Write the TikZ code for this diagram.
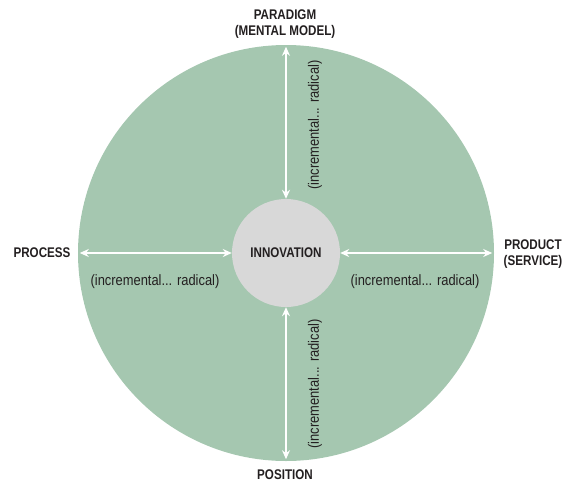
\documentclass[tikz,border=0pt]{standalone}
\usepackage{fontspec}
\setmainfont{Liberation Sans}
\newfontfamily\headfont[FakeStretch=0.83]{Liberation Sans}
\newfontfamily\rangefont[FakeStretch=0.86]{Liberation Sans}
\usetikzlibrary{arrows.meta}
\definecolor{wheelgreen}{RGB}{165,199,176}
\definecolor{hubgrey}{RGB}{216,216,216}
\definecolor{inkdark}{RGB}{35,31,32}

\begin{document}
\begin{tikzpicture}[x=1pt, y=-1pt,
  headlabel/.style={font=\headfont\bfseries\fontsize{14}{15.5}\selectfont, text=inkdark, align=center, inner sep=0pt},
  spanlabel/.style={font=\rangefont\fontsize{15}{17}\selectfont, text=inkdark, inner sep=0pt},
  spanarrow/.style={draw=white, line width=1.8pt, {Stealth[length=9pt,width=8pt]}-{Stealth[length=9pt,width=8pt]}}]
  \useasboundingbox (0,0) rectangle (563,483);

  \node[circle, fill=wheelgreen, minimum size=416pt, inner sep=0pt] (wheel) at (286,253) {};
  \node[circle, fill=hubgrey, minimum size=108pt, inner sep=0pt, headlabel] (hub) at (286,253) {INNOVATION};

  \node[headlabel] (paradigm) at (285,24) {PARADIGM\\(MENTAL MODEL)};
  \node[headlabel] (process) at (42,253) {PROCESS};
  \node[headlabel] (product) at (533,254) {PRODUCT\\(SERVICE)};
  \node[headlabel] (position) at (285,475) {POSITION};

  \draw[spanarrow, shorten >=2pt] (hub.north) to (wheel.north);
  \draw[spanarrow, shorten >=2pt] (hub.south) to (wheel.south);
  \draw[spanarrow, shorten >=2pt] (hub.west) to (wheel.west);
  \draw[spanarrow, shorten >=2pt] (hub.east) to (wheel.east);

  \node[spanlabel, rotate=90] (rtop) at (315,125) {(incremental... radical)};
  \node[spanlabel, rotate=90] (rbottom) at (315,384) {(incremental... radical)};
  \node[spanlabel] (rleft) at (155,282) {(incremental... radical)};
  \node[spanlabel] (rright) at (415,282) {(incremental... radical)};
\end{tikzpicture}
\end{document}
